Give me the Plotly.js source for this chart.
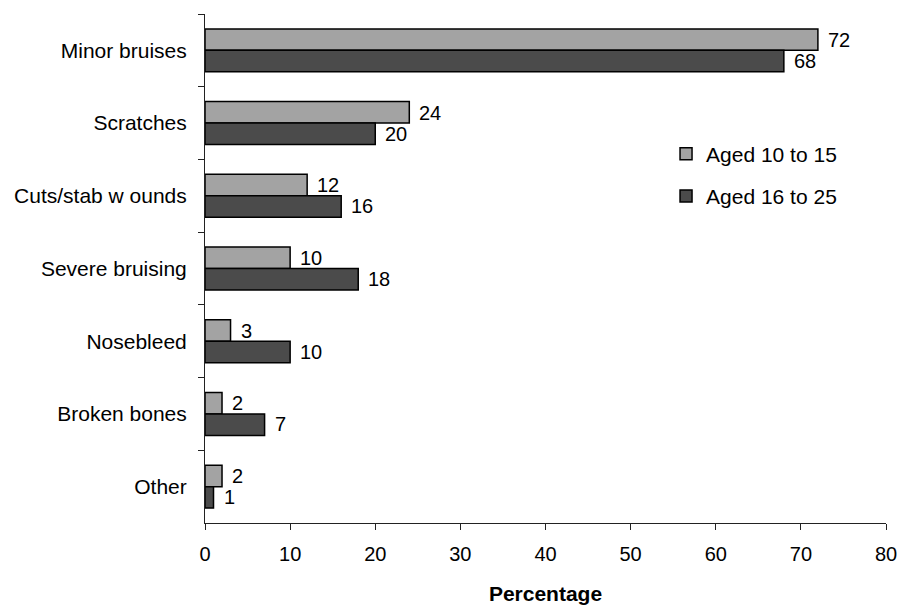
<!DOCTYPE html>
<html>
<head>
<meta charset="utf-8">
<script src="https://cdn.plot.ly/plotly-3.0.1.min.js"></script>
<style>
  html, body { margin: 0; padding: 0; background: #fff; }
  #chart { width: 900px; height: 605px; }
</style>
</head>
<body>
<div id="chart"></div>
<script>
// Injury types and the share (%) of each age group reporting them
const categories = ["Minor bruises", "Scratches", "Cuts/stab w ounds", "Severe bruising", "Nosebleed", "Broken bones", "Other"];
const aged10to15 = [72, 24, 12, 10, 3, 2, 2];
const aged16to25 = [68, 20, 16, 18, 10, 7, 1];
const seriesNames = ["Aged 10 to 15", "Aged 16 to 25"];
const xTicks = [0, 10, 20, 30, 40, 50, 60, 70, 80];

const FONT = "Liberation Sans, Arial, sans-serif";
const LIGHT = "#a3a3a3";
const DARK = "#4b4b4b";

const traces = [
  {
    type: "bar", orientation: "h", name: seriesNames[0],
    y: categories, x: aged10to15,
    marker: { color: LIGHT, line: { color: "#000", width: 1.5 } },
    legendgroup: "a", hoverinfo: "x+y"
  },
  {
    type: "bar", orientation: "h", name: seriesNames[1],
    y: categories, x: aged16to25,
    marker: { color: DARK, line: { color: "#000", width: 1.5 } },
    legendgroup: "b", hoverinfo: "x+y"
  }
];

// Value labels beside the end of each bar
const annotations = [];
[[aged10to15, 10.5], [aged16to25, -10.5]].forEach(([vals, dy]) => {
  vals.forEach((v, i) => {
    annotations.push({
      x: v, y: categories[i], xref: "x", yref: "y",
      text: String(v), showarrow: false,
      xanchor: "left", yanchor: "middle",
      xshift: 8, yshift: dy,
      font: { family: FONT, size: 20, color: "#000" }
    });
  });
});

const layout = {
  width: 900, height: 605,
  margin: { l: 205, r: 14, t: 14, b: 82 },
  paper_bgcolor: "#fff", plot_bgcolor: "#fff",
  font: { family: FONT, size: 20, color: "#000" },
  barmode: "group", bargap: 0.41, bargroupgap: 0,
  showlegend: true,
  legend: {
    x: 0.677, y: 0.765, xanchor: "left", yanchor: "top",
    bgcolor: "rgba(0,0,0,0)",
    font: { family: FONT, size: 21, color: "#000" },
    traceorder: "grouped", tracegroupgap: 12,
    itemclick: false, itemdoubleclick: false
  },
  xaxis: {
    range: [0, 80], tickvals: xTicks, ticktext: xTicks.map(String),
    showgrid: false, zeroline: false,
    showline: true, linecolor: "#222", linewidth: 1,
    ticks: "outside", ticklen: 6, tickcolor: "#222", tickwidth: 1,
    ticklabelstandoff: 7,
    tickfont: { family: FONT, size: 20, color: "#000" },
    title: { text: "<b>Percentage</b>", font: { family: FONT, size: 21, color: "#000" }, standoff: 23 },
    fixedrange: true
  },
  yaxis: {
    type: "category", autorange: "reversed",
    showgrid: false, zeroline: false,
    showline: true, linecolor: "#222", linewidth: 1,
    ticks: "outside", tickson: "boundaries", ticklen: 6, tickcolor: "#222", tickwidth: 1,
    ticklabelstandoff: 13,
    tickfont: { family: FONT, size: 21, color: "#000" },
    fixedrange: true
  },
  annotations: annotations
};

Plotly.newPlot("chart", traces, layout, { displayModeBar: false, staticPlot: true });
</script>
</body>
</html>
